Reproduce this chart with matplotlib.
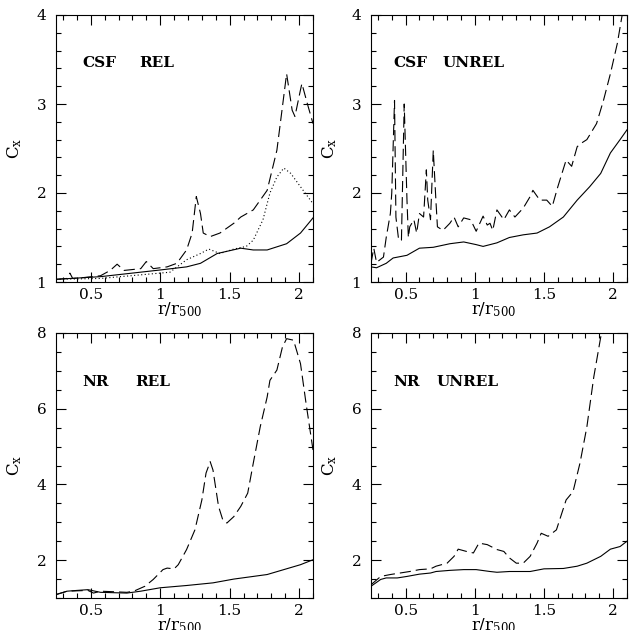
import matplotlib
matplotlib.use("Agg")
import matplotlib.pyplot as plt
from matplotlib.ticker import MultipleLocator, FixedLocator

plt.rcParams['font.family'] = ['DejaVu Serif']
plt.rcParams['mathtext.fontset'] = 'dejavuserif'

# ---------------- data ----------------
# CSF REL
csf_rel_solid_x = [0.25, 0.57, 1.00, 1.19, 1.29, 1.41, 1.58, 1.67, 1.77, 1.91, 2.01, 2.10]
csf_rel_solid_y = [1.03, 1.06, 1.135, 1.17, 1.21, 1.32, 1.38, 1.36, 1.36, 1.43, 1.55, 1.72]

csf_rel_dash_x = [0.25, 0.33, 0.35, 0.37, 0.45, 0.57, 0.64, 0.69, 0.74, 0.86, 0.90, 0.95, 1.05, 1.12,
                  1.19, 1.23, 1.26, 1.29, 1.31, 1.36, 1.43, 1.53, 1.58, 1.67, 1.77, 1.84, 1.88, 1.91,
                  1.95, 1.97, 2.01, 2.02, 2.06, 2.10]
csf_rel_dash_y = [1.03, 1.04, 1.10, 1.04, 1.05, 1.07, 1.13, 1.20, 1.13, 1.15, 1.23, 1.15, 1.17, 1.21,
                  1.36, 1.55, 1.96, 1.77, 1.55, 1.51, 1.55, 1.66, 1.73, 1.81, 2.03, 2.48, 2.97, 3.34,
                  2.93, 2.86, 3.16, 3.23, 3.00, 2.78]

csf_rel_dot_x = [0.25, 0.57, 1.00, 1.07, 1.19, 1.29, 1.35, 1.43, 1.53, 1.62, 1.67, 1.74, 1.79, 1.84,
                 1.89, 1.94, 2.01, 2.10]
csf_rel_dot_y = [1.03, 1.04, 1.10, 1.11, 1.25, 1.32, 1.37, 1.32, 1.37, 1.40, 1.47, 1.70, 2.00, 2.18,
                 2.28, 2.22, 2.07, 1.88]

# CSF UNREL
csf_unrel_solid_x = [0.25, 0.29, 0.36, 0.41, 0.51, 0.60, 0.70, 0.82, 0.92, 1.01, 1.06, 1.16, 1.25,
                     1.35, 1.45, 1.54, 1.64, 1.74, 1.83, 1.91, 1.98, 2.05, 2.10]
csf_unrel_solid_y = [1.17, 1.16, 1.21, 1.27, 1.30, 1.38, 1.39, 1.43, 1.45, 1.42, 1.40, 1.44, 1.50,
                     1.53, 1.55, 1.62, 1.73, 1.92, 2.07, 2.22, 2.45, 2.60, 2.71]

csf_unrel_dash_x = [0.25, 0.27, 0.29, 0.34, 0.36, 0.39, 0.40, 0.42, 0.43, 0.45, 0.47, 0.49, 0.51,
                    0.52, 0.53, 0.56, 0.58, 0.60, 0.63, 0.65, 0.66, 0.68, 0.70, 0.72, 0.73, 0.77,
                    0.82, 0.85, 0.88, 0.92, 0.97, 1.01, 1.06, 1.09, 1.11, 1.13, 1.16, 1.21, 1.25,
                    1.29, 1.35, 1.40, 1.42, 1.47, 1.52, 1.56, 1.60, 1.66, 1.70, 1.74, 1.77, 1.81,
                    1.88, 1.93, 1.98, 2.03, 2.065]
csf_unrel_dash_y = [1.21, 1.38, 1.22, 1.28, 1.50, 1.77, 2.00, 3.04, 1.73, 1.47, 1.47, 3.00, 1.92,
                    1.50, 1.62, 1.70, 1.55, 1.77, 1.73, 2.26, 1.92, 1.70, 2.48, 1.89, 1.62, 1.58,
                    1.66, 1.73, 1.62, 1.72, 1.70, 1.57, 1.74, 1.64, 1.66, 1.58, 1.81, 1.70, 1.81,
                    1.73, 1.83, 1.96, 2.03, 1.92, 1.92, 1.85, 2.07, 2.37, 2.30, 2.52, 2.56, 2.60,
                    2.78, 3.04, 3.34, 3.68, 4.00]

# NR REL
nr_rel_solid_x = [0.25, 0.33, 0.40, 0.48, 0.57, 0.76, 0.86, 1.00, 1.19, 1.38, 1.53, 1.67, 1.77,
                  1.89, 2.01, 2.10]
nr_rel_solid_y = [1.09, 1.18, 1.20, 1.22, 1.15, 1.13, 1.18, 1.27, 1.33, 1.40, 1.50, 1.57, 1.62,
                  1.75, 1.88, 2.01]

nr_rel_dash_x = [0.25, 0.33, 0.48, 0.52, 0.57, 0.76, 0.81, 0.89, 0.95, 1.02, 1.05, 1.10, 1.13,
                 1.19, 1.25, 1.30, 1.33, 1.36, 1.38, 1.42, 1.45, 1.48, 1.53, 1.58, 1.63, 1.67,
                 1.72, 1.77, 1.79, 1.84, 1.88, 1.91, 1.96, 2.01, 2.05, 2.10]
nr_rel_dash_y = [1.09, 1.18, 1.20, 1.13, 1.18, 1.15, 1.18, 1.31, 1.49, 1.75, 1.79, 1.77, 1.88,
                 2.28, 2.80, 3.59, 4.30, 4.60, 4.38, 3.42, 3.07, 2.98, 3.15, 3.42, 3.77, 4.56,
                 5.52, 6.31, 6.75, 7.02, 7.63, 7.85, 7.81, 7.19, 6.14, 4.91]

# NR UNREL
nr_unrel_solid_x = [0.25, 0.32, 0.36, 0.44, 0.51, 0.60, 0.68, 0.72, 0.82, 0.92, 1.01, 1.11, 1.16,
                    1.25, 1.40, 1.50, 1.64, 1.74, 1.81, 1.91, 1.98, 2.05, 2.10]
nr_unrel_solid_y = [1.31, 1.49, 1.53, 1.53, 1.57, 1.63, 1.66, 1.70, 1.73, 1.75, 1.75, 1.70, 1.68,
                    1.70, 1.70, 1.77, 1.78, 1.84, 1.92, 2.10, 2.29, 2.36, 2.50]

nr_unrel_dash_x = [0.25, 0.32, 0.39, 0.46, 0.53, 0.60, 0.68, 0.72, 0.80, 0.85, 0.88, 0.94, 0.99,
                   1.03, 1.09, 1.16, 1.21, 1.25, 1.30, 1.35, 1.40, 1.45, 1.48, 1.53, 1.59, 1.66,
                   1.71, 1.76, 1.81, 1.86, 1.91, 1.93]
nr_unrel_dash_y = [1.35, 1.57, 1.62, 1.66, 1.70, 1.75, 1.77, 1.84, 1.92, 2.10, 2.29, 2.23, 2.19,
                   2.45, 2.41, 2.28, 2.23, 2.06, 1.92, 1.92, 2.10, 2.45, 2.71, 2.63, 2.80, 3.59,
                   3.81, 4.56, 5.52, 6.84, 7.89, 8.20]

panel_labels = [("CSF", "REL"), ("CSF", "UNREL"), ("NR", "REL"), ("NR", "UNREL")]
x_ticklabels = ["0.5", "1", "1.5", "2"]

# ---------------- figure ----------------
fig = plt.figure(figsize=(6.29, 6.30), dpi=100)

W, H = 629.0, 630.0
rects = [
    (56 / W, (H - 282) / H, 257 / W, 267 / H),
    (371 / W, (H - 282) / H, 256 / W, 267 / H),
    (56 / W, (H - 598) / H, 257 / W, 265 / H),
    (371 / W, (H - 598) / H, 256 / W, 265 / H),
]

dash = (0, (10, 4.5))
dot = (0, (1, 2.2))
lw = 0.8

series = [
    [(csf_rel_solid_x, csf_rel_solid_y, '-'), (csf_rel_dash_x, csf_rel_dash_y, dash),
     (csf_rel_dot_x, csf_rel_dot_y, dot)],
    [(csf_unrel_solid_x, csf_unrel_solid_y, '-'), (csf_unrel_dash_x, csf_unrel_dash_y, dash)],
    [(nr_rel_solid_x, nr_rel_solid_y, '-'), (nr_rel_dash_x, nr_rel_dash_y, dash)],
    [(nr_unrel_solid_x, nr_unrel_solid_y, '-'), (nr_unrel_dash_x, nr_unrel_dash_y, dash)],
]

text_pos = [
    ((0.44, 3.46), (0.85, 3.46)),
    ((0.41, 3.46), (0.77, 3.46)),
    ((0.44, 6.71), (0.82, 6.71)),
    ((0.41, 6.71), (0.725, 6.71)),
]

for i, rect in enumerate(rects):
    ax = fig.add_axes(rect)
    for xs, ys, ls in series[i]:
        ax.plot(xs, ys, color='black', lw=lw, linestyle=ls)
    ax.set_xlim(0.25, 2.1)
    if i < 2:
        ax.set_ylim(1, 4)
        ax.yaxis.set_major_locator(MultipleLocator(1))
        ax.yaxis.set_minor_locator(MultipleLocator(0.2))
    else:
        ax.set_ylim(1, 8)
        ax.yaxis.set_major_locator(FixedLocator([2, 4, 6, 8]))
        ax.yaxis.set_minor_locator(MultipleLocator(0.5))
    ax.xaxis.set_major_locator(FixedLocator([0.5, 1.0, 1.5, 2.0]))
    ax.set_xticklabels(x_ticklabels)
    ax.xaxis.set_minor_locator(MultipleLocator(0.1))
    ax.tick_params(which='both', direction='in', top=True, right=True, width=0.8, colors='black')
    ax.tick_params(which='major', length=7, labelsize=11)
    ax.tick_params(which='minor', length=3.6)
    ax.tick_params(axis='x', pad=4.5)
    ax.tick_params(axis='y', pad=7)
    for sp in ax.spines.values():
        sp.set_linewidth(0.8)
    ax.set_xlabel(r'$\mathrm{r/r_{500}}$', fontsize=12)
    ax.xaxis.set_label_coords(0.48, -0.105)
    ax.xaxis.label.set_va('center')
    ax.set_ylabel(r'$\mathrm{C_x}$', fontsize=12)
    ax.yaxis.set_label_coords(-0.16, 0.5)
    ax.yaxis.label.set_va('center')
    (p1, p2) = text_pos[i]
    ax.text(p1[0], p1[1], panel_labels[i][0], fontsize=11, fontweight='bold', va='center', ha='left')
    ax.text(p2[0], p2[1], panel_labels[i][1], fontsize=11, fontweight='bold', va='center', ha='left')

fig.savefig('out.png', dpi=100)
